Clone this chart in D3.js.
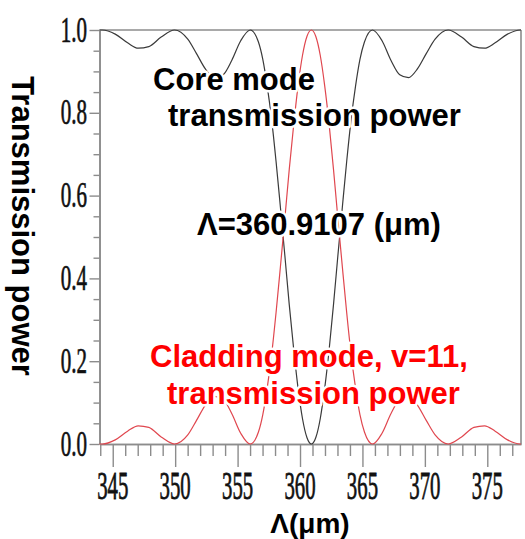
<!DOCTYPE html>
<html>
<head>
<meta charset="utf-8">
<script src="https://cdn.jsdelivr.net/npm/d3@7/dist/d3.min.js"></script>
<style>
  html, body { margin: 0; padding: 0; background: #fff; }
  svg { display: block; }
</style>
</head>
<body>
<svg id="chart" width="525" height="539"></svg>
<script>
// Grating period (µm) sampled across the resonance
const period = [
  343.94, 344.17, 345.20, 346.19, 347.04, 347.89, 348.88, 349.95,
  351.01, 351.71, 352.42, 353.13, 353.84, 354.54, 355.25, 356.01,
  356.67, 357.02, 357.37, 357.73, 358.08, 358.43, 358.79, 359.14,
  359.50, 359.85, 360.20, 360.56, 360.91, 361.26, 361.62, 361.97,
  362.33, 362.68, 363.03, 363.39, 363.74, 364.09, 364.45, 364.80,
  365.16, 365.81, 366.57, 367.28, 367.99, 368.69, 369.40, 370.11,
  370.82, 371.87, 372.94, 373.93, 374.78, 375.63, 376.62, 377.65, 377.70
];

// Cladding mode (v=11) transmitted power
const claddingPower = [
  0.000, 0.000, 0.010, 0.031, 0.044, 0.040, 0.017, 0.000,
  0.022, 0.057, 0.094, 0.115, 0.108, 0.073, 0.026, 0.000,
  0.029, 0.071, 0.135, 0.217, 0.317, 0.428, 0.546, 0.664,
  0.773, 0.867, 0.939, 0.985, 1.000, 0.985, 0.939, 0.867,
  0.773, 0.664, 0.546, 0.428, 0.317, 0.217, 0.135, 0.071,
  0.029, 0.000, 0.026, 0.073, 0.108, 0.115, 0.094, 0.057,
  0.022, 0.000, 0.017, 0.040, 0.044, 0.031, 0.010, 0.000, 0.000
];

// Core mode transmitted power
const corePower = [
  1.000, 1.000, 0.990, 0.969, 0.956, 0.960, 0.983, 1.000,
  0.978, 0.943, 0.906, 0.885, 0.892, 0.927, 0.974, 1.000,
  0.971, 0.929, 0.865, 0.783, 0.683, 0.572, 0.454, 0.336,
  0.227, 0.133, 0.061, 0.015, 0.000, 0.015, 0.061, 0.133,
  0.227, 0.336, 0.454, 0.572, 0.683, 0.783, 0.865, 0.929,
  0.971, 1.000, 0.974, 0.927, 0.892, 0.885, 0.906, 0.943,
  0.978, 1.000, 0.983, 0.960, 0.956, 0.969, 0.990, 1.000, 1.000
];

const xMajorTicks = [345, 350, 355, 360, 365, 370, 375];
const yMajorTicks = [0, 0.2, 0.4, 0.6, 0.8, 1.0];
const yTickLabels = ["0.0", "0.2", "0.4", "0.6", "0.8", "1.0"];

const svg = d3.select("#chart");
const plotLeft = 99.5, plotRight = 521, plotTop = 30, plotBottom = 444;

const x = d3.scaleLinear().domain([343.94, 377.7]).range([plotLeft, plotRight]);
const y = d3.scaleLinear().domain([0, 1]).range([plotBottom, plotTop]);

const axisColor = "#8c8c8c";

// frame (top and right edges)
svg.append("line").attr("x1", plotLeft).attr("x2", plotRight).attr("y1", plotTop).attr("y2", plotTop)
  .attr("stroke", axisColor).attr("stroke-width", 1.6);
svg.append("line").attr("x1", plotRight).attr("x2", plotRight).attr("y1", plotTop).attr("y2", plotBottom)
  .attr("stroke", axisColor).attr("stroke-width", 1.6);

// bottom axis: minor ticks every 1 µm, major every 5 µm
const xMinor = d3.range(344, 378, 1).filter(v => v % 5 !== 0);
const gxMinor = svg.append("g").attr("transform", `translate(0,${plotBottom})`)
  .call(d3.axisBottom(x).tickValues(xMinor).tickSize(12).tickSizeOuter(0).tickFormat(""));
const gx = svg.append("g").attr("transform", `translate(0,${plotBottom})`)
  .call(d3.axisBottom(x).tickValues(xMajorTicks).tickSize(23).tickSizeOuter(0).tickFormat(""));

// left axis: minor ticks every 0.05, major every 0.2
const yMinor = d3.range(0.05, 1.0, 0.05).filter(v => Math.abs(v * 5 - Math.round(v * 5)) > 1e-6);
const gyMinor = svg.append("g").attr("transform", `translate(${plotLeft},0)`)
  .call(d3.axisLeft(y).tickValues(yMinor).tickSize(6).tickSizeOuter(0).tickFormat(""));
const gy = svg.append("g").attr("transform", `translate(${plotLeft},0)`)
  .call(d3.axisLeft(y).tickValues(yMajorTicks).tickSize(10).tickSizeOuter(0).tickFormat(""));

[gxMinor, gx, gyMinor, gy].forEach(g => {
  g.selectAll("path.domain").attr("stroke", axisColor).attr("stroke-width", 1.6);
  g.selectAll(".tick line").attr("stroke", axisColor).attr("stroke-width", 1.4);
});

// tick labels: tall condensed serif digits
svg.append("g").selectAll("text").data(xMajorTicks).join("text")
  .attr("transform", d => `translate(${x(d)},499) scale(0.52,1)`)
  .attr("text-anchor", "middle")
  .attr("font-family", "'Liberation Serif', 'DejaVu Serif', serif")
  .attr("font-size", 40)
  .attr("fill", "#111").attr("stroke", "#111").attr("stroke-width", 0.8)
  .text(d => d);

svg.append("g").selectAll("text").data(yMajorTicks).join("text")
  .attr("transform", d => `translate(87,${y(d) + 11.5}) scale(0.6,1)`)
  .attr("text-anchor", "end")
  .attr("font-family", "'Liberation Serif', 'DejaVu Serif', serif")
  .attr("font-size", 35)
  .attr("fill", "#111").attr("stroke", "#111").attr("stroke-width", 0.7)
  .text((d, i) => yTickLabels[i]);

// curves
const line = vals => d3.line()
  .x((d, i) => x(period[i]))
  .y((d, i) => y(vals[i]))
  .curve(d3.curveMonotoneX)(vals);

svg.append("path").attr("d", line(corePower))
  .attr("fill", "none").attr("stroke", "#3a3a3a").attr("stroke-width", 1.2);
svg.append("path").attr("d", line(claddingPower))
  .attr("fill", "none").attr("stroke", "#e0474f").attr("stroke-width", 1.2);

// annotations
const notes = [
  { text: "Core mode", x: 153, y: 90, color: "#000" },
  { text: "transmission power", x: 168, y: 126, color: "#000" },
  { text: "Λ=360.9107 (μm)", x: 197, y: 235, color: "#000" },
  { text: "Cladding mode, v=11,", x: 150, y: 367, color: "#ff0000" },
  { text: "transmission power", x: 167, y: 404, color: "#ff0000" }
];
svg.append("g").selectAll("text").data(notes).join("text")
  .attr("x", d => d.x).attr("y", d => d.y)
  .attr("font-family", "'Liberation Sans', Arial, sans-serif")
  .attr("font-weight", "bold")
  .attr("font-size", 31)
  .attr("fill", d => d.color)
  .attr("stroke", "#fff").attr("stroke-width", 5).attr("stroke-linejoin", "round")
  .attr("paint-order", "stroke")
  .text(d => d.text);

// axis titles
svg.append("text")
  .attr("transform", "translate(12,226) rotate(90)")
  .attr("text-anchor", "middle")
  .attr("font-family", "'Liberation Sans', Arial, sans-serif")
  .attr("font-weight", "bold")
  .attr("font-size", 31)
  .attr("fill", "#000")
  .text("Transmission power");

svg.append("text")
  .attr("x", 310).attr("y", 533)
  .attr("text-anchor", "middle")
  .attr("font-family", "'Liberation Sans', Arial, sans-serif")
  .attr("font-weight", "bold")
  .attr("font-size", 28)
  .attr("fill", "#000")
  .text("Λ(μm)");
</script>
</body>
</html>
